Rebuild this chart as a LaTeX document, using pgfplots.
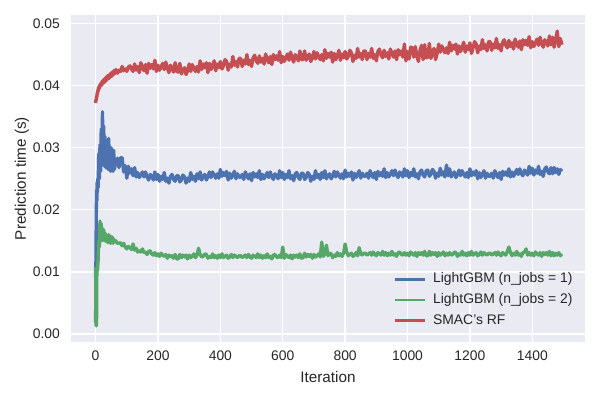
\documentclass[border=0pt]{standalone}
\usepackage{pgfplots}
\pgfplotsset{compat=1.18}
\usepackage{pgfplotstable}
\usepackage{fontspec}
\setmainfont{Liberation Sans}
\definecolor{sbblue}{HTML}{4C72B0}
\definecolor{sbgreen}{HTML}{55A868}
\definecolor{sbred}{HTML}{C44E52}
\definecolor{sbbg}{HTML}{EAEAF2}
\definecolor{sbtext}{HTML}{262626}

\pgfplotstableread{
x b g r
0 0.0020 0.0108 0.0372
1 0.0118 0.0016 0.0377
2 0.0180 0.0013 0.0376
3 0.0232 0.0015 0.0383
4 0.0215 0.0100 0.0382
5 0.0245 0.0106 0.0388
6 0.0228 0.0102 0.0386
7 0.0250 0.0110 0.0393
8 0.0236 0.0118 0.0391
10 0.0290 0.0150 0.0398
12 0.0250 0.0140 0.0395
14 0.0305 0.0182 0.0402
16 0.0262 0.0152 0.0399
18 0.0330 0.0178 0.0405
20 0.0285 0.0150 0.0401
22 0.0358 0.0170 0.0408
24 0.0290 0.0152 0.0404
26 0.0335 0.0168 0.0410
28 0.0270 0.0150 0.0405
30 0.0318 0.0163 0.0412
32 0.0268 0.0150 0.0407
34 0.0312 0.0160 0.0414
36 0.0272 0.0148 0.0409
38 0.0300 0.0158 0.0416
40 0.0265 0.0147 0.0411
42 0.0315 0.0160 0.0417
44 0.0268 0.0148 0.0412
46 0.0292 0.0156 0.0419
48 0.0262 0.0146 0.0414
50 0.0300 0.0157 0.0421
52 0.0263 0.0147 0.0415
54 0.0288 0.0156 0.0422
56 0.0262 0.0146 0.0417
58 0.0296 0.0153 0.0424
60 0.0265 0.0148 0.0419
65 0.0277 0.0150 0.0426
70 0.0283 0.0146 0.0420
75 0.0268 0.0146 0.0425
80 0.0284 0.0147 0.0423
85 0.0284 0.0142 0.0431
90 0.0261 0.0146 0.0424
95 0.0271 0.0140 0.0427
100 0.0251 0.0137 0.0423
105 0.0270 0.0141 0.0430
110 0.0259 0.0139 0.0432
115 0.0266 0.0136 0.0427
120 0.0255 0.0145 0.0423
125 0.0268 0.0135 0.0435
130 0.0253 0.0138 0.0425
135 0.0260 0.0132 0.0431
140 0.0252 0.0134 0.0421
145 0.0256 0.0132 0.0437
150 0.0261 0.0137 0.0430
155 0.0253 0.0131 0.0424
160 0.0261 0.0132 0.0434
165 0.0253 0.0128 0.0420
170 0.0248 0.0133 0.0436
175 0.0257 0.0134 0.0428
180 0.0254 0.0129 0.0434
185 0.0248 0.0127 0.0427
190 0.0261 0.0131 0.0441
195 0.0249 0.0126 0.0423
200 0.0257 0.0129 0.0433
205 0.0246 0.0125 0.0425
210 0.0254 0.0130 0.0430
215 0.0249 0.0127 0.0436
220 0.0260 0.0125 0.0426
225 0.0246 0.0128 0.0438
230 0.0251 0.0122 0.0428
235 0.0243 0.0127 0.0421
240 0.0254 0.0124 0.0433
245 0.0257 0.0126 0.0428
250 0.0249 0.0122 0.0422
255 0.0246 0.0128 0.0437
260 0.0255 0.0121 0.0423
265 0.0255 0.0121 0.0422
270 0.0245 0.0128 0.0436
275 0.0248 0.0123 0.0419
280 0.0256 0.0127 0.0425
285 0.0253 0.0124 0.0429
290 0.0243 0.0127 0.0418
295 0.0251 0.0121 0.0424
300 0.0246 0.0127 0.0435
305 0.0260 0.0123 0.0423
310 0.0249 0.0125 0.0434
315 0.0254 0.0129 0.0428
320 0.0246 0.0123 0.0423
325 0.0258 0.0127 0.0431
330 0.0250 0.0138 0.0422
335 0.0261 0.0128 0.0440
340 0.0248 0.0124 0.0426
345 0.0254 0.0125 0.0435
350 0.0257 0.0129 0.0429
355 0.0248 0.0128 0.0437
360 0.0253 0.0122 0.0421
365 0.0261 0.0125 0.0436
370 0.0252 0.0123 0.0426
375 0.0261 0.0129 0.0432
380 0.0256 0.0123 0.0440
385 0.0251 0.0126 0.0424
390 0.0258 0.0122 0.0435
395 0.0251 0.0127 0.0429
400 0.0265 0.0123 0.0439
405 0.0254 0.0129 0.0427
410 0.0260 0.0123 0.0432
415 0.0255 0.0125 0.0442
420 0.0262 0.0127 0.0439
425 0.0248 0.0122 0.0425
430 0.0259 0.0124 0.0435
435 0.0251 0.0128 0.0430
440 0.0256 0.0123 0.0447
445 0.0262 0.0127 0.0433
450 0.0250 0.0125 0.0439
455 0.0258 0.0123 0.0430
460 0.0253 0.0126 0.0444
465 0.0252 0.0126 0.0444
470 0.0257 0.0123 0.0431
475 0.0249 0.0125 0.0441
480 0.0261 0.0127 0.0435
485 0.0255 0.0123 0.0450
490 0.0250 0.0128 0.0434
495 0.0258 0.0124 0.0441
500 0.0247 0.0122 0.0431
505 0.0260 0.0127 0.0445
510 0.0253 0.0125 0.0449
515 0.0258 0.0123 0.0440
520 0.0252 0.0129 0.0436
525 0.0263 0.0123 0.0448
530 0.0249 0.0127 0.0438
535 0.0257 0.0122 0.0444
540 0.0250 0.0126 0.0435
545 0.0255 0.0123 0.0451
550 0.0260 0.0129 0.0443
555 0.0252 0.0123 0.0437
560 0.0261 0.0125 0.0447
565 0.0253 0.0121 0.0434
570 0.0249 0.0127 0.0450
575 0.0258 0.0128 0.0442
580 0.0255 0.0124 0.0448
585 0.0250 0.0123 0.0441
590 0.0263 0.0127 0.0455
595 0.0252 0.0123 0.0437
600 0.0260 0.0140 0.0447
605 0.0249 0.0122 0.0439
610 0.0257 0.0128 0.0445
615 0.0252 0.0125 0.0451
620 0.0263 0.0123 0.0441
625 0.0250 0.0127 0.0454
630 0.0255 0.0121 0.0444
635 0.0247 0.0127 0.0438
640 0.0258 0.0124 0.0450
645 0.0260 0.0127 0.0446
650 0.0252 0.0123 0.0440
655 0.0249 0.0129 0.0456
660 0.0259 0.0122 0.0442
665 0.0259 0.0123 0.0442
670 0.0249 0.0130 0.0456
675 0.0252 0.0124 0.0441
680 0.0260 0.0128 0.0447
685 0.0257 0.0125 0.0451
690 0.0246 0.0128 0.0439
695 0.0254 0.0122 0.0445
700 0.0249 0.0128 0.0455
705 0.0263 0.0124 0.0443
710 0.0252 0.0126 0.0453
715 0.0257 0.0129 0.0447
720 0.0249 0.0124 0.0442
725 0.0260 0.0148 0.0450
730 0.0252 0.0125 0.0440
735 0.0263 0.0129 0.0458
740 0.0250 0.0143 0.0444
745 0.0255 0.0126 0.0452
750 0.0258 0.0130 0.0446
755 0.0250 0.0129 0.0454
760 0.0254 0.0123 0.0438
765 0.0262 0.0127 0.0452
770 0.0253 0.0125 0.0442
775 0.0261 0.0131 0.0448
780 0.0256 0.0126 0.0457
785 0.0251 0.0129 0.0441
790 0.0258 0.0125 0.0451
795 0.0250 0.0130 0.0445
800 0.0264 0.0145 0.0455
805 0.0253 0.0132 0.0443
810 0.0259 0.0126 0.0447
815 0.0254 0.0128 0.0457
820 0.0261 0.0130 0.0453
825 0.0248 0.0125 0.0439
830 0.0259 0.0127 0.0449
835 0.0252 0.0131 0.0444
840 0.0257 0.0126 0.0460
845 0.0263 0.0139 0.0446
850 0.0251 0.0129 0.0452
855 0.0259 0.0127 0.0442
860 0.0254 0.0130 0.0456
865 0.0254 0.0130 0.0456
870 0.0259 0.0127 0.0442
875 0.0251 0.0129 0.0452
880 0.0263 0.0131 0.0446
885 0.0257 0.0127 0.0460
890 0.0252 0.0132 0.0444
895 0.0260 0.0128 0.0450
900 0.0249 0.0126 0.0440
905 0.0262 0.0131 0.0455
910 0.0255 0.0129 0.0459
915 0.0260 0.0127 0.0449
920 0.0254 0.0133 0.0445
925 0.0266 0.0127 0.0457
930 0.0252 0.0131 0.0447
935 0.0260 0.0126 0.0453
940 0.0253 0.0130 0.0443
945 0.0258 0.0127 0.0459
950 0.0263 0.0133 0.0452
955 0.0255 0.0127 0.0446
960 0.0264 0.0129 0.0456
965 0.0256 0.0125 0.0442
970 0.0252 0.0131 0.0458
975 0.0261 0.0132 0.0450
980 0.0258 0.0128 0.0456
985 0.0253 0.0127 0.0446
990 0.0266 0.0131 0.0467
995 0.0255 0.0127 0.0440
1000 0.0263 0.0130 0.0455
1005 0.0252 0.0126 0.0443
1010 0.0260 0.0132 0.0462
1015 0.0255 0.0129 0.0461
1020 0.0266 0.0127 0.0446
1025 0.0253 0.0131 0.0463
1030 0.0258 0.0125 0.0448
1035 0.0250 0.0131 0.0439
1040 0.0261 0.0128 0.0457
1045 0.0264 0.0131 0.0465
1050 0.0256 0.0127 0.0442
1055 0.0253 0.0133 0.0466
1060 0.0263 0.0126 0.0445
1065 0.0264 0.0126 0.0446
1070 0.0254 0.0133 0.0468
1075 0.0257 0.0127 0.0444
1080 0.0265 0.0131 0.0453
1085 0.0262 0.0128 0.0460
1090 0.0251 0.0131 0.0442
1095 0.0259 0.0125 0.0452
1100 0.0254 0.0131 0.0467
1105 0.0267 0.0127 0.0454
1110 0.0256 0.0129 0.0464
1115 0.0261 0.0132 0.0458
1120 0.0253 0.0126 0.0453
1125 0.0272 0.0130 0.0461
1130 0.0255 0.0127 0.0452
1135 0.0266 0.0131 0.0470
1140 0.0253 0.0127 0.0456
1145 0.0258 0.0128 0.0465
1150 0.0261 0.0132 0.0459
1155 0.0252 0.0131 0.0467
1160 0.0256 0.0125 0.0451
1165 0.0264 0.0129 0.0464
1170 0.0255 0.0127 0.0455
1175 0.0263 0.0133 0.0461
1180 0.0258 0.0127 0.0470
1185 0.0253 0.0130 0.0454
1190 0.0260 0.0126 0.0464
1195 0.0252 0.0131 0.0458
1200 0.0266 0.0127 0.0469
1205 0.0255 0.0133 0.0452
1210 0.0261 0.0127 0.0461
1215 0.0256 0.0129 0.0471
1220 0.0263 0.0131 0.0467
1225 0.0250 0.0126 0.0453
1230 0.0260 0.0128 0.0464
1235 0.0252 0.0132 0.0458
1240 0.0257 0.0127 0.0474
1245 0.0263 0.0131 0.0460
1250 0.0251 0.0129 0.0466
1255 0.0259 0.0127 0.0456
1260 0.0254 0.0130 0.0471
1265 0.0254 0.0130 0.0471
1270 0.0259 0.0127 0.0457
1275 0.0251 0.0129 0.0467
1280 0.0263 0.0131 0.0461
1285 0.0257 0.0127 0.0476
1290 0.0252 0.0132 0.0460
1295 0.0260 0.0128 0.0466
1300 0.0249 0.0126 0.0456
1305 0.0262 0.0131 0.0470
1310 0.0256 0.0129 0.0474
1315 0.0261 0.0127 0.0465
1320 0.0255 0.0133 0.0461
1325 0.0266 0.0140 0.0473
1330 0.0253 0.0131 0.0463
1335 0.0261 0.0126 0.0469
1340 0.0254 0.0130 0.0459
1345 0.0259 0.0127 0.0475
1350 0.0265 0.0133 0.0467
1355 0.0257 0.0127 0.0462
1360 0.0266 0.0129 0.0472
1365 0.0258 0.0125 0.0458
1370 0.0255 0.0131 0.0474
1375 0.0264 0.0132 0.0466
1380 0.0261 0.0137 0.0473
1385 0.0256 0.0127 0.0465
1390 0.0270 0.0131 0.0479
1395 0.0259 0.0127 0.0461
1400 0.0267 0.0130 0.0471
1405 0.0256 0.0126 0.0463
1410 0.0264 0.0132 0.0469
1415 0.0259 0.0129 0.0475
1420 0.0270 0.0127 0.0465
1425 0.0257 0.0131 0.0478
1430 0.0262 0.0125 0.0468
1435 0.0254 0.0131 0.0462
1440 0.0266 0.0128 0.0474
1445 0.0269 0.0131 0.0470
1450 0.0261 0.0127 0.0464
1455 0.0258 0.0133 0.0480
1460 0.0268 0.0126 0.0466
1465 0.0258 0.0131 0.0478
1470 0.0268 0.0126 0.0462
1475 0.0260 0.0130 0.0474
1480 0.0266 0.0127 0.0488
1485 0.0257 0.0131 0.0463
1490 0.0265 0.0126 0.0476
1495 0.0262 0.0129 0.0466
}\data

\begin{document}
\begin{tikzpicture}
\begin{axis}[
  at={(0,0)}, anchor=south west,
  width=370.1pt, height=235.4pt, scale only axis,
  xmin=-79, xmax=1569, ymin=-0.00129, ymax=0.05139,
  axis background/.style={fill=sbbg},
  axis line style={draw=none},
  major tick length=0pt,
  grid=major, grid style={white, line width=1pt},
  xtick={0,200,400,600,800,1000,1200,1400},
  ytick={0,0.01,0.02,0.03,0.04,0.05},
  scaled y ticks=false, scaled x ticks=false,
  /pgf/number format/assume math mode=true,
  /pgf/number format/1000 sep={},
  tick label style={font=\fontsize{10}{12}\selectfont, text=sbtext},
  xticklabel style={yshift=-3pt},
  yticklabel style={xshift=-4.5pt, /pgf/number format/fixed, /pgf/number format/fixed zerofill, /pgf/number format/precision=2},
  xlabel={Iteration}, ylabel={Prediction time (s)},
  label style={font=\fontsize{11}{13}\selectfont, text=sbtext},
  xlabel style={at={(axis description cs:0.5,-0.107)}, anchor=center},
  ylabel style={at={(axis description cs:-0.0954,0.5)}, anchor=center},
  legend cell align=left,
  legend style={at={(axis description cs:0.6265,0.218)}, anchor=north west,
    draw=none, fill=none, inner sep=0pt,
    font=\fontsize{10}{12}\selectfont, text=sbtext,
    nodes={inner sep=1pt, text height=7.5pt, text depth=2.5pt},
    row sep=2.9pt,
    /tikz/every odd column/.append style={column sep=4.3pt}},
  legend image code/.code={\draw[#1, line width=1.8pt] (0pt,0pt) -- (21.6pt,0pt);},
]
\addplot[sbblue, line width=2.4pt, line join=round] table[x=x, y=b]{\data};
\addlegendentry{LightGBM (n\_jobs = 1)}
\addplot[sbgreen, line width=2.4pt, line join=round] table[x=x, y=g]{\data};
\addlegendentry{LightGBM (n\_jobs = 2)}
\addplot[sbred, line width=2.4pt, line join=round] table[x=x, y=r]{\data};
\addlegendentry{SMAC's RF}
\end{axis}
\pgfresetboundingbox
\useasboundingbox (-51.1pt,-41.8pt) rectangle (380.9pt,246.2pt);
\end{tikzpicture}
\end{document}
